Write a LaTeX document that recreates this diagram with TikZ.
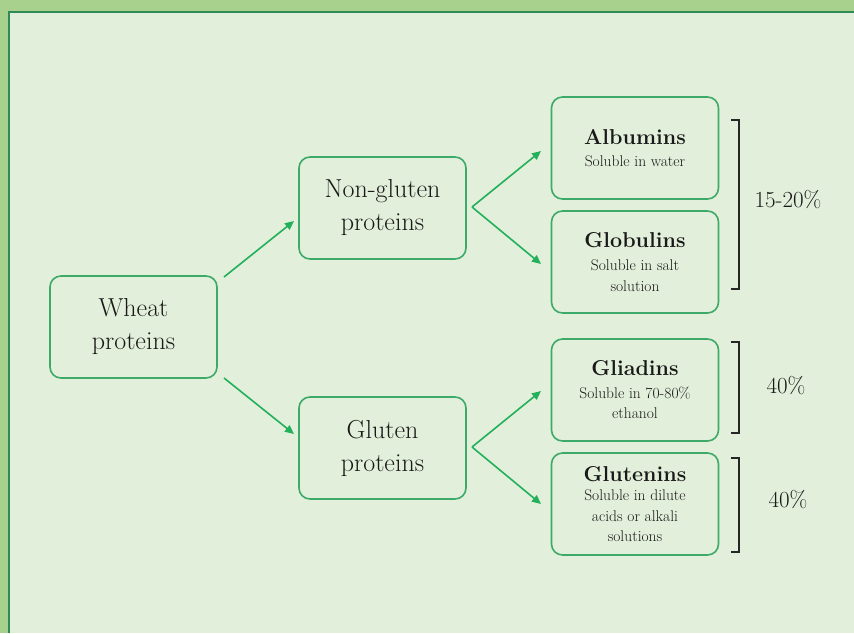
\documentclass[tikz,border=0pt]{standalone}
\usetikzlibrary{arrows.meta}
\definecolor{outerg}{HTML}{A9D18E}
\definecolor{innerg}{HTML}{E2EFDA}
\definecolor{frameg}{HTML}{2E8B57}
\definecolor{boxg}{HTML}{3DAA6A}
\definecolor{arrg}{HTML}{22B05A}
\tikzset{
  pbox/.style={draw=boxg, line width=1.6pt, rounded corners=11pt, minimum width=167pt, minimum height=102pt, align=center, inner sep=2pt, text=black!90},
  small/.style={font=\fontsize{15.5}{20.5}\selectfont},
  conn/.style={draw=arrg, line width=1.6pt, -{Triangle[length=9pt,width=8pt]}},
  brk/.style={draw=black!85, line width=1.1pt},
  big/.style={font=\fontsize{26}{33}\selectfont},
  pct/.style={font=\fontsize{23}{26}\selectfont, text=black!90}
}
\newcommand{\ttl}[1]{{\fontsize{21.5}{24}\selectfont\bfseries #1}}
\begin{document}
\begin{tikzpicture}[x=1pt,y=-1pt]
\useasboundingbox (0,0) rectangle (854,633);
\fill[outerg] (0,0) rectangle (854,633);
\fill[innerg] (9,12) rectangle (854,633);
\draw[frameg, line width=1.2pt] (9,633) -- (9,12) -- (854,12);
% nodes
\node[pbox, big] (wheat) at (133.5,327) {Wheat\\proteins};
\node[pbox, big] (nong) at (382.5,208) {Non-gluten\\proteins};
\node[pbox, big] (glu) at (382.5,448) {Gluten\\proteins};
\node[pbox, small] (alb) at (635,148) {\ttl{Albumins}\\[1pt]Soluble in water};
\node[pbox, small] (glob) at (635,262) {\ttl{Globulins}\\[3pt]Soluble in salt\\solution};
\node[pbox, small] (glia) at (635,390) {\ttl{Gliadins}\\[2pt]Soluble in 70-80\%\\ethanol};
\node[pbox, small] (glut) at (635,504) {\ttl{Glutenins}\\[-1pt]Soluble in dilute\\acids or alkali\\solutions};
% arrows
\coordinate (wA) at (224,277);
\coordinate (wB) at (224,378);
\coordinate (nV) at (472,207);
\coordinate (gV) at (472,447);
\draw[conn] (wA) -- (294,221);
\draw[conn] (wB) -- (294,434);
\draw[conn] (nV) -- (541,151);
\draw[conn] (nV) -- (541,264);
\draw[conn] (gV) -- (541,391);
\draw[conn] (gV) -- (541,504);
% brackets
\draw[brk] (731,120) -- (739,120) -- (739,289) -- (731,289);
\draw[brk] (731,342) -- (739,342) -- (739,433) -- (731,433);
\draw[brk] (731,458) -- (739,458) -- (739,552) -- (731,552);
\node[pct] (p1) at (788,200) {15-20\%};
\node[pct] (p2) at (786,386) {40\%};
\node[pct] (p3) at (788,500) {40\%};
\end{tikzpicture}
\end{document}
